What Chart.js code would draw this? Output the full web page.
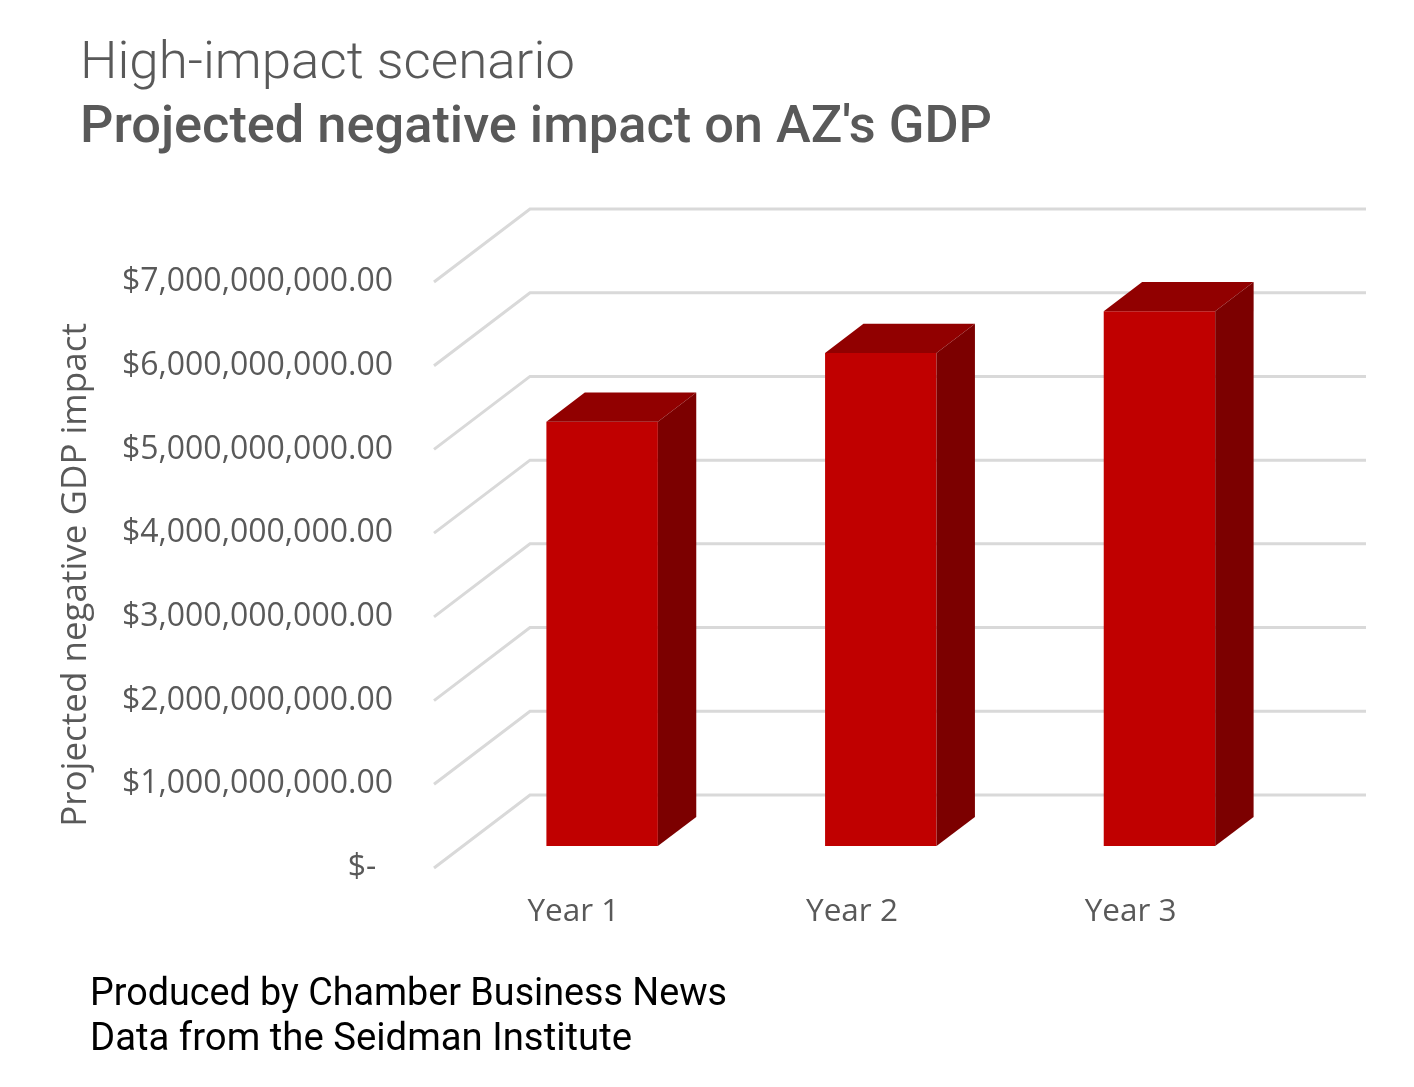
<!DOCTYPE html>
<html>
<head>
<meta charset="utf-8">
<script src="https://cdn.jsdelivr.net/npm/chart.js@4"></script>
<style>
  html, body { margin: 0; padding: 0; background: #fff; }
  #wrap { position: relative; width: 1414px; height: 1087px; }
  .txt { position: absolute; white-space: nowrap; line-height: 1; transform-origin: 0 0; font-family: Roboto, "Liberation Sans", sans-serif; }
  #title1 { left: 80px; top: 35px; font-size: 52px; font-weight: 300; color: #595959; }
  #title2 { left: 80px; top: 99px; font-size: 52px; font-weight: 500; color: #595959; }
  #foot1 { left: 90px; top: 973px; font-size: 38px; font-weight: 400; color: #000; }
  #foot2 { left: 90px; top: 1018px; font-size: 38px; font-weight: 400; color: #000; }
</style>
</head>
<body>
<div id="wrap">
  <canvas id="gdpChart"></canvas>
  <div class="txt" id="title1" data-w="495">High-impact scenario</div>
  <div class="txt" id="title2" data-w="912">Projected negative impact on AZ's GDP</div>
  <div class="txt" id="foot1" data-w="637">Produced by Chamber Business News</div>
  <div class="txt" id="foot2" data-w="542">Data from the Seidman Institute</div>
</div>
<script>
// data
const categories = ["Year 1", "Year 2", "Year 3"];
const gdpImpact = [5070000000, 5890000000, 6390000000];
const yTickValues = [0, 1000000000, 2000000000, 3000000000, 4000000000, 5000000000, 6000000000, 7000000000];

// 3d look: offset from front plane to back wall
const WALL_DX = 96;
const WALL_DY = -73;
const BAR_FRONT = 0.3;  // bars sit between 30% and 70% of the depth
const BAR_BACK = 0.7;

const tickFont = "'Open Sans', 'Noto Sans', sans-serif";

function moneyLabel(v) {
    if (v === 0) return "$-  ";
    return "$" + v.toLocaleString("en-US", { minimumFractionDigits: 2, maximumFractionDigits: 2 });
}

const wall3d = {
    id: "wall3d",
    beforeDatasetsDraw(chart) {
        const ctx = chart.ctx;
        const area = chart.chartArea;
        const y = chart.scales.y;
        ctx.save();
        ctx.strokeStyle = "#d9d9d9";
        ctx.lineWidth = 3;
        y.ticks.forEach(t => {
            const py = y.getPixelForValue(t.value);
            ctx.beginPath();
            ctx.moveTo(area.left, py);
            ctx.lineTo(area.left + WALL_DX, py + WALL_DY);
            ctx.lineTo(area.right + WALL_DX, py + WALL_DY);
            ctx.stroke();
        });
        ctx.restore();
        // push the bars into the middle of the depth
        ctx.save();
        ctx.translate(WALL_DX * BAR_FRONT, WALL_DY * BAR_FRONT);
    },
    afterDatasetsDraw(chart) {
        const ctx = chart.ctx;
        const ddx = WALL_DX * (BAR_BACK - BAR_FRONT);
        const ddy = WALL_DY * (BAR_BACK - BAR_FRONT);
        chart.getDatasetMeta(0).data.forEach(bar => {
            const p = bar.getProps(["x", "y", "base", "width"], true);
            const l = p.x - p.width / 2;
            const r = p.x + p.width / 2;
            // top face
            ctx.fillStyle = "#910000";
            ctx.beginPath();
            ctx.moveTo(l, p.y);
            ctx.lineTo(r, p.y);
            ctx.lineTo(r + ddx, p.y + ddy);
            ctx.lineTo(l + ddx, p.y + ddy);
            ctx.closePath();
            ctx.fill();
            // side face
            ctx.fillStyle = "#7c0000";
            ctx.beginPath();
            ctx.moveTo(r, p.y);
            ctx.lineTo(r + ddx, p.y + ddy);
            ctx.lineTo(r + ddx, p.base + ddy);
            ctx.lineTo(r, p.base);
            ctx.closePath();
            ctx.fill();
        });
        ctx.restore();
    }
};

const ctx = document.getElementById("gdpChart").getContext("2d");
new Chart(ctx, {
    type: "bar",
    data: {
        labels: categories,
        datasets: [{
            label: "Projected negative GDP impact",
            data: gdpImpact,
            backgroundColor: "#c00000",
            borderWidth: 0,
            barPercentage: 0.4,
            categoryPercentage: 1.0,
            clip: false
        }]
    },
    options: {
        responsive: true,
        maintainAspectRatio: false,
        animation: false,
        layout: { padding: { left: 55, right: 144, top: 282, bottom: 0 } },
        plugins: {
            legend: { display: false },
            tooltip: { enabled: false }
        },
        scales: {
            x: {
                grid: { display: false, drawTicks: false },
                border: { display: false },
                ticks: {
                    color: "#595959",
                    font: { family: tickFont, size: 31.5 },
                    padding: 25
                },
                afterFit(scale) { scale.height = 1087 - 868; }
            },
            y: {
                min: 0,
                max: 7000000000,
                grid: { display: false, drawTicks: false },
                border: { display: false },
                afterBuildTicks(scale) {
                    scale.ticks = yTickValues.map(v => ({ value: v }));
                },
                ticks: {
                    color: "#595959",
                    font: { family: tickFont, size: 32 },
                    padding: 41,
                    callback: v => moneyLabel(v)
                },
                title: {
                    display: true,
                    text: "Projected negative GDP impact",
                    color: "#595959",
                    font: { family: tickFont, size: 35 },
                    padding: 0
                },
                afterFit(scale) { scale.width = 434 - 55; }
            }
        }
    },
    plugins: [wall3d]
});

// squeeze the heading / footer text to the widths seen in the picture
function fitText() {
    document.querySelectorAll(".txt").forEach(el => {
        const w = el.getBoundingClientRect().width;
        el.style.transform = "scaleX(" + (parseFloat(el.dataset.w) / w) + ")";
    });
}
if (document.fonts && document.fonts.ready) {
    document.fonts.ready.then(fitText);
} else {
    fitText();
}
</script>
</body>
</html>
